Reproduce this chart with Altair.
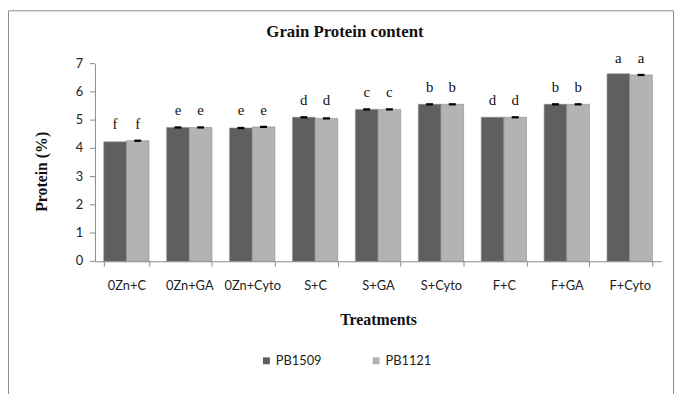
import altair as alt
import pandas as pd

treatments = ["0Zn+C", "0Zn+GA", "0Zn+Cyto", "S+C", "S+GA", "S+Cyto", "F+C", "F+GA", "F+Cyto"]
varieties = ["PB1509", "PB1121"]
pb1509 = [4.23, 4.74, 4.72, 5.10, 5.38, 5.56, 5.10, 5.56, 6.64]
pb1121 = [4.27, 4.74, 4.76, 5.06, 5.38, 5.56, 5.10, 5.56, 6.60]
err1509 = [0.0, 0.04, 0.04, 0.04, 0.04, 0.04, 0.0, 0.04, 0.0]
err1121 = [0.04, 0.04, 0.04, 0.04, 0.04, 0.04, 0.04, 0.04, 0.04]
letters = ["f", "e", "e", "d", "c", "b", "d", "b", "a"]
y_ticks = [0, 1, 2, 3, 4, 5, 6, 7]
colors = ["#5f5f5f", "#b3b3b3"]
chart_title = "Grain Protein content"

rows = []
for i, t in enumerate(treatments):
    top = max(pb1509[i] + err1509[i], pb1121[i] + err1121[i])
    for v, vals, errs in [("PB1509", pb1509, err1509), ("PB1121", pb1121, err1121)]:
        rows.append({"treatment": t, "variety": v, "protein": vals[i], "err": errs[i],
                     "lo": vals[i] - errs[i], "hi": vals[i] + errs[i],
                     "letter": letters[i], "top": top})
df = pd.DataFrame(rows)
tick_df = pd.DataFrame({"v": y_ticks, "lab": [str(v) for v in y_ticks]})

W, H = 573, 200
PL, PT = 88, 54
TOTW, TOTH = 674, 386

y_scale = alt.Scale(domain=[0, 7], nice=False)
y_axis = alt.Axis(title="Protein  (%)", ticks=False, labels=False,
                  titleX=-54, titleY=109, titleBaseline="middle")

x_scale = alt.Scale(paddingInner=0.28, paddingOuter=0.14)
x_enc = alt.X("treatment:N", sort=treatments, scale=x_scale,
              axis=alt.Axis(title="Treatments", labelAngle=0, tickBand="extent",
                            labelPadding=14, titlePadding=19))
x_plain = alt.X("treatment:N", sort=treatments, scale=x_scale, axis=None)
xo = alt.XOffset("variety:N", sort=varieties, scale=alt.Scale(domain=varieties))

base = alt.Chart(df)

bars = base.mark_bar(stroke="#8a8a8a", strokeWidth=0.6).encode(
    x=x_enc,
    xOffset=xo,
    y=alt.Y("protein:Q", scale=y_scale, axis=y_axis),
    color=alt.Color("variety:N", sort=varieties,
                    scale=alt.Scale(domain=varieties, range=colors),
                    legend=alt.Legend(title=None, orient="none", legendX=167, legendY=294,
                                      direction="horizontal", symbolType="square",
                                      symbolSize=49, symbolStrokeWidth=0,
                                      labelFont="Lato", labelFontSize=13, labelColor="#222",
                                      labelOffset=3, columnPadding=48)),
)

errs = base.transform_filter("datum.err > 0").mark_bar(color="black", size=7).encode(
    x=x_plain,
    xOffset=xo,
    y=alt.Y("lo:Q", scale=y_scale, axis=None),
    y2="hi:Q",
)

labels = base.mark_text(font="Liberation Serif", fontSize=15, baseline="bottom", dy=-8,
                        color="#111").encode(
    x=x_plain,
    xOffset=xo,
    y=alt.Y("top:Q", scale=y_scale, axis=None),
    text="letter:N",
)

ytick_marks = alt.Chart(tick_df).mark_rule(color="#888888", strokeWidth=1).encode(
    x=alt.value(-5), x2=alt.value(0),
    y=alt.Y("v:Q", scale=y_scale, axis=None),
)
ytick_labels = alt.Chart(tick_df).mark_text(
    font="Lato", fontSize=13, color="#222", align="right", baseline="middle"
).encode(
    x=alt.value(-12),
    y=alt.Y("v:Q", scale=y_scale, axis=None),
    text="lab:N",
)

frame = alt.Chart(alt.Data(values=[{}])).mark_rect(
    fill=None, stroke="#8c8c8c", strokeWidth=1, clip=False
).encode(
    x=alt.value(-PL + 0.5), x2=alt.value(TOTW - PL - 0.5),
    y=alt.value(-PT + 0.5), y2=alt.value(TOTH - PT + 10),
)

title = alt.Chart(alt.Data(values=[{"t": chart_title}])).mark_text(
    font="Liberation Serif", fontSize=17, fontWeight="bold", color="#111",
    baseline="middle", align="center", clip=False
).encode(
    x=alt.value(253), y=alt.value(-32), text="t:N"
)

chart = alt.layer(frame, title, bars, errs, labels, ytick_marks, ytick_labels).resolve_axis(
    x="independent", y="independent"
).properties(
    width=W, height=H,
    autosize=alt.AutoSizeParams(type="none"),
    padding={"left": PL, "top": PT, "right": TOTW - PL - W, "bottom": TOTH - PT - H},
).configure_view(stroke=None).configure_axis(
    grid=False, domainColor="#888888", tickColor="#888888", tickSize=5,
    labelFont="Lato", labelFontSize=13, labelColor="#222",
    titleFont="Liberation Serif", titleFontSize=16, titleFontWeight="bold", titleColor="#111",
)

chart.save("out.html", embed_options={"renderer": "svg", "actions": False})
